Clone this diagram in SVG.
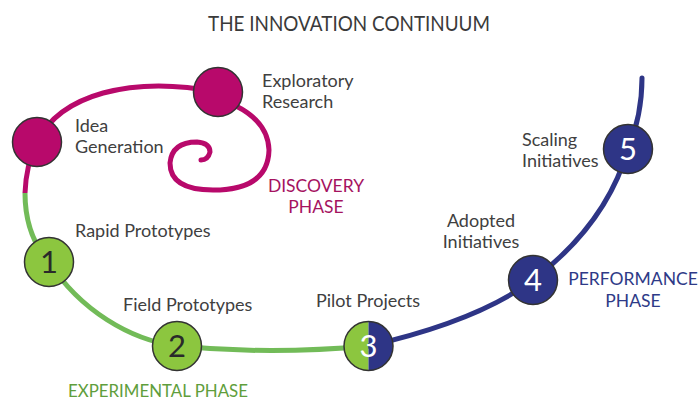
<svg xmlns="http://www.w3.org/2000/svg" width="699" height="400" viewBox="0 0 699 400">
  <defs>
    <style>
      .bg { fill: #ffffff; }
      .title { font-family: Lato, "Open Sans", "Liberation Sans", sans-serif; font-size: 21px; fill: #3a3a3a; }
      .label { font-family: Lato, "Open Sans", "Liberation Sans", sans-serif; font-size: 18px; fill: #404040; }
      .phase { font-family: Lato, "Open Sans", "Liberation Sans", sans-serif; font-size: 17.5px; }
      .num { font-family: Lato, "Open Sans", "Liberation Sans", sans-serif; font-size: 31px; text-anchor: middle; }
      .line { fill: none; stroke-width: 5; stroke-linecap: round; }
      .magenta-line { stroke: #B8096B; }
      .green-line { stroke: #72BB58; }
      .blue-line { stroke: #2E3586; }
      .node { stroke: #333333; stroke-width: 1.5; }
      .magenta { fill: #B8096B; }
      .green { fill: #8CC63F; }
      .blue { fill: #2E3586; }
    </style>
    <clipPath id="left-half">
      <rect x="340" y="318" width="28.5" height="56"/>
    </clipPath>
    <clipPath id="right-half">
      <rect x="368.5" y="318" width="28" height="56"/>
    </clipPath>
  </defs>

  <rect class="bg" x="0" y="0" width="699" height="400"/>

  <text class="title" x="208" y="31" textLength="282" lengthAdjust="spacingAndGlyphs">THE INNOVATION CONTINUUM</text>

  <!-- the continuum curve, coloured by phase -->
  <g id="connectors">
    <path class="line magenta-line" d="M 37,142 C 60,95 130,75 218,92"/>
    <path class="line magenta-line" d="M 236,106 Q 268,122 269,150 Q 268,190 213,190 Q 170,190 170,163 Q 172,142 197,142 Q 210,143 210,152 Q 208,160 201,160"/>
    <path class="line magenta-line" d="M 37,142 Q 26,165 25,193" style="stroke-linecap: butt"/>
    <path class="line green-line" d="M 25,193 Q 25,235 49,262" style="stroke-linecap: butt"/>
    <path class="line green-line" d="M 49,262 C 80,310 130,340 177,346"/>
    <path class="line green-line" d="M 177,346 Q 270,355 368,346"/>
    <path class="line blue-line" d="M 368,346 C 430,332 490,312 533,280"/>
    <path class="line blue-line" d="M 533,280 C 575,248 612,205 628,149"/>
    <path class="line blue-line" d="M 628,149 C 638,125 642,100 642,78"/>
  </g>

  <!-- discovery phase -->
  <g id="idea-generation">
    <circle class="node magenta" cx="37" cy="142" r="24.5"/>
    <text class="label" x="75" y="132">Idea</text>
    <text class="label" x="75" y="153">Generation</text>
  </g>
  <g id="exploratory-research">
    <circle class="node magenta" cx="218" cy="92" r="24.5"/>
    <text class="label" x="262" y="87">Exploratory</text>
    <text class="label" x="262" y="108">Research</text>
  </g>
  <g id="discovery-phase">
    <text class="phase" x="316" y="192" text-anchor="middle" fill="#A5135F">DISCOVERY</text>
    <text class="phase" x="316" y="213" text-anchor="middle" fill="#A5135F">PHASE</text>
  </g>

  <!-- experimental phase -->
  <g id="rapid-prototypes">
    <circle class="node green" cx="49" cy="262" r="24.5"/>
    <text class="num" x="49" y="273" fill="#2a2a2a">1</text>
    <text class="label" x="75" y="237">Rapid Prototypes</text>
  </g>
  <g id="field-prototypes">
    <circle class="node green" cx="177" cy="346" r="24.5"/>
    <text class="num" x="177" y="357" fill="#2a2a2a">2</text>
    <text class="label" x="123" y="311">Field Prototypes</text>
  </g>
  <g id="experimental-phase">
    <text class="phase" x="68" y="397" fill="#5F9E3C" textLength="180" lengthAdjust="spacingAndGlyphs">EXPERIMENTAL PHASE</text>
  </g>

  <!-- transition node -->
  <g id="pilot-projects">
    <circle class="green" cx="368.5" cy="346" r="24.5" clip-path="url(#left-half)"/>
    <circle class="blue" cx="368.5" cy="346" r="24.5" clip-path="url(#right-half)"/>
    <circle class="node" cx="368.5" cy="346" r="24.5" fill="none"/>
    <text class="num" x="368.5" y="357" fill="#ffffff">3</text>
    <text class="label" x="316" y="307">Pilot Projects</text>
  </g>

  <!-- performance phase -->
  <g id="adopted-initiatives">
    <circle class="node blue" cx="533" cy="280" r="24.5"/>
    <text class="num" x="533" y="291" fill="#ffffff">4</text>
    <text class="label" x="481" y="227" text-anchor="middle">Adopted</text>
    <text class="label" x="481" y="248" text-anchor="middle">Initiatives</text>
  </g>
  <g id="scaling-initiatives">
    <circle class="node blue" cx="628" cy="149" r="24.5"/>
    <text class="num" x="628" y="160" fill="#ffffff">5</text>
    <text class="label" x="522" y="146">Scaling</text>
    <text class="label" x="522" y="167">Initiatives</text>
  </g>
  <g id="performance-phase">
    <text class="phase" x="633" y="285" text-anchor="middle" fill="#2E3A87">PERFORMANCE</text>
    <text class="phase" x="633" y="307" text-anchor="middle" fill="#2E3A87">PHASE</text>
  </g>
</svg>
